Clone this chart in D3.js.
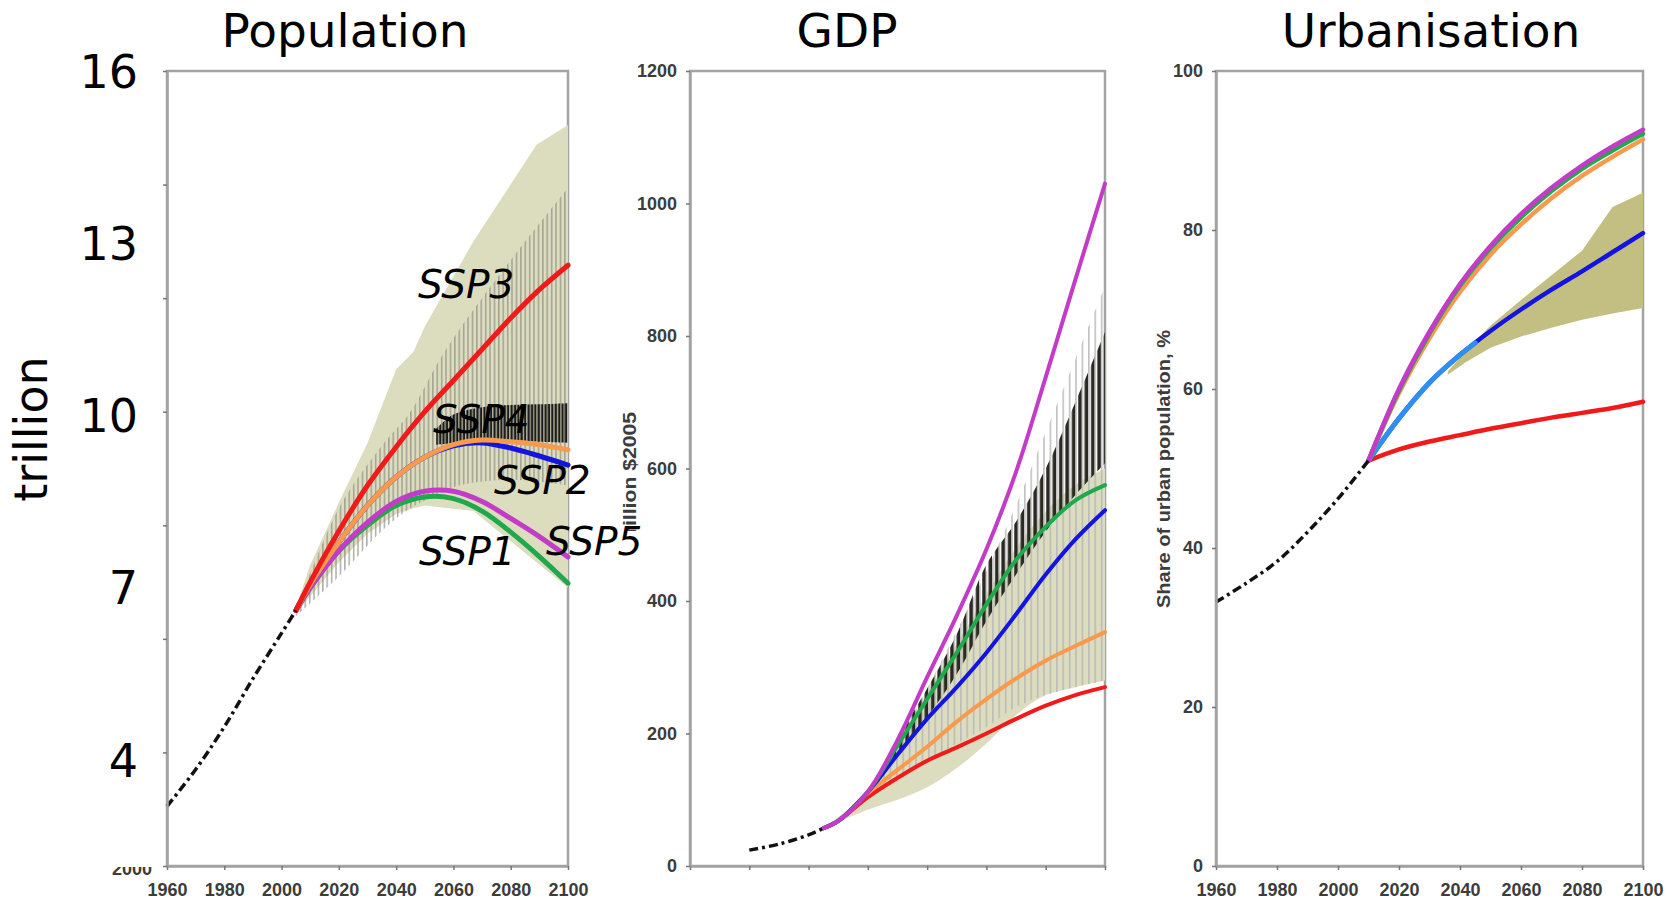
<!DOCTYPE html>
<html><head><meta charset="utf-8">
<script src="https://cdn.jsdelivr.net/npm/d3@7"></script>
<style>
body{margin:0;background:#fff;}
svg{display:block;}
</style></head><body>
<svg id="chart" width="1677" height="902"></svg>
<script>
// ---------------- DATA ----------------
const titles = ["Population", "GDP", "Urbanisation"];
const sspNames = ["SSP1", "SSP2", "SSP3", "SSP4", "SSP5"];
const xTickYears = [1960, 1980, 2000, 2020, 2040, 2060, 2080, 2100];

// Population (billions, labelled "trillion" on the picture)
const popHistYears = [1960, 1970, 1980, 1990, 2000, 2005];
const popHist = [3.05, 3.7, 4.45, 5.3, 6.1, 6.5];
const popYears = [2005, 2010, 2020, 2030, 2040, 2050, 2060, 2070, 2080, 2090, 2100];
const popSSP1 = [6.5, 6.9, 7.55, 8.0, 8.35, 8.5, 8.47, 8.25, 7.88, 7.45, 6.98];
const popSSP2 = [6.5, 6.95, 7.7, 8.35, 8.85, 9.2, 9.4, 9.45, 9.36, 9.22, 9.06];
const popSSP3 = [6.5, 7.0, 7.9, 8.7, 9.38, 10.0, 10.55, 11.1, 11.65, 12.15, 12.58];
const popSSP4 = [6.5, 6.95, 7.7, 8.35, 8.85, 9.2, 9.42, 9.5, 9.47, 9.42, 9.33];
const popSSP5 = [6.5, 6.9, 7.55, 8.05, 8.42, 8.6, 8.6, 8.42, 8.12, 7.8, 7.44];
const popFanYears = [2005, 2010, 2020, 2030, 2040, 2046, 2050, 2067, 2089, 2100];
const popFanHigh = [6.55, 7.3, 8.4, 9.45, 10.75, 11.05, 11.5, 13.0, 14.7, 15.05];
const popFanLow = [6.45, 6.75, 7.35, 7.85, 8.2, 8.3, 8.35, 8.25, 7.35, 6.9];
const popHatchYears = [2005, 2020, 2035, 2045, 2055, 2062, 2080, 2100];
const popHatchHigh = [6.5, 8.3, 9.4, 10.0, 10.9, 11.44, 12.67, 13.94];
const popHatchLow = [6.4, 7.1, 7.9, 8.3, 8.55, 8.7, 8.8, 8.7];
const popDarkYears = [2054, 2060, 2070, 2080, 2090, 2100];
const popDarkHigh = [9.7, 9.95, 10.08, 10.12, 10.13, 10.15];
const popDarkLow = [9.42, 9.45, 9.52, 9.5, 9.47, 9.45];
const popMinorTicks = [2, 4, 6, 8, 10, 12, 14, 16];
const popBigTicks = [4, 7, 10, 13, 16];
const popBigTickLabels = ["4", "7", "10", "13", "16"];
const popUnit = "trillion";
const popCutLabel = "2000";

// GDP (trillion $2005)
const gdpHistYears = [1980, 1990, 2000, 2005];
const gdpHist = [24, 33, 47, 57];
const gdpYears = [2005, 2010, 2020, 2030, 2040, 2050, 2060, 2070, 2080, 2090, 2100];
const gdpSSP1 = [57, 68, 112, 182, 252, 322, 395, 462, 512, 552, 575];
const gdpSSP2 = [57, 68, 112, 168, 222, 270, 322, 380, 440, 493, 537];
const gdpSSP3 = [57, 68, 104, 133, 159, 179, 200, 222, 242, 258, 270];
const gdpSSP4 = [57, 68, 110, 145, 180, 218, 252, 283, 310, 332, 353];
const gdpSSP5 = [57, 68, 112, 190, 285, 378, 478, 595, 738, 885, 1030];
const gdpFanYears = [2005, 2020, 2030, 2040, 2050, 2060, 2070, 2080, 2090, 2100];
const gdpFanHigh = [57, 112, 185, 260, 335, 410, 480, 535, 575, 600];
const gdpFanLow = [57, 85, 100, 119, 148, 185, 228, 258, 270, 280];
const gdpHatchYears = [2005, 2020, 2030, 2040, 2050, 2060, 2070, 2080, 2090, 2100];
const gdpHatchHigh = [57, 112, 185, 268, 355, 445, 545, 655, 765, 875];
const gdpHatchLow = [57, 100, 128, 158, 185, 210, 240, 258, 270, 280];
const gdpDarkYears = [2028, 2040, 2050, 2060, 2070, 2080, 2090, 2100];
const gdpDarkHigh = [178, 268, 350, 455, 520, 600, 700, 806];
const gdpDarkLow = [160, 225, 290, 370, 440, 505, 560, 608];
const gdpTicks = [0, 200, 400, 600, 800, 1000, 1200];
const gdpUnit = "Trillion $2005";

// Urbanisation (share of urban population, %)
const urbHistYears = [1960, 1970, 1980, 1990, 2000, 2010];
const urbHist = [33.2, 35.6, 38.3, 42.0, 46.2, 51.0];
const urbYears = [2010, 2020, 2030, 2040, 2050, 2060, 2070, 2080, 2090, 2100];
const urbSSP1 = [51, 59.8, 67.0, 73.0, 77.7, 81.6, 84.9, 87.7, 90.0, 92.1];
const urbSSP2 = [51, 56.3, 60.8, 64.3, 67.3, 70.0, 72.5, 74.8, 77.2, 79.6];
const urbSSP3 = [51, 52.4, 53.4, 54.2, 55.0, 55.7, 56.4, 57.0, 57.6, 58.4];
const urbSSP4 = [51, 59.5, 66.4, 72.2, 76.9, 80.7, 84.0, 86.8, 89.2, 91.4];
const urbSSP5 = [51, 60.0, 67.2, 73.2, 78.0, 82.0, 85.3, 88.1, 90.5, 92.6];
const urbLightYears = [2010, 2020, 2030, 2040, 2045];
const urbLight = [51, 56.3, 60.8, 64.3, 65.8];
const urbBandYears = [2036, 2042, 2050, 2060, 2070, 2080, 2090, 2100];
const urbBandHigh = [62.2, 64.8, 68.0, 71.2, 74.3, 77.4, 82.9, 84.7];
const urbBandLow = [61.8, 63.4, 65.2, 66.6, 67.7, 68.7, 69.5, 70.2];
const urbTicks = [0, 20, 40, 60, 80, 100];
const urbUnit = "Share of urban population, %";

// ---------------- STYLE / LAYOUT ----------------
const C = {ssp1: "#22a84c", ssp2: "#1414e0", ssp3: "#f01a1a", ssp4: "#f79a4e", ssp5: "#c23cc8",
           light: "#2f8ff0", fan: "#dcdcbf", band: "#c3bf83", frame: "#a3a3a3", tick: "#3c3c3c"};
const TOP = 71, BOT = 866;
const panels = [
  {x0: 167, x1: 568, dom: [2, 16]},
  {x0: 690, x1: 1105, dom: [0, 1200]},
  {x0: 1216, x1: 1643, dom: [0, 100]}
];
const titleX = [345, 847, 1431];
const smooth = d3.curveCatmullRom.alpha(0.5);

const svg = d3.select("#chart");
const defs = svg.append("defs");
function stripe(id, w, lw, color, op, off) {
  const p = defs.append("pattern").attr("id", id).attr("patternUnits", "userSpaceOnUse")
    .attr("width", w).attr("height", 20);
  p.append("rect").attr("x", off).attr("y", 0).attr("width", lw).attr("height", 20)
    .attr("fill", color).attr("fill-opacity", op);
}
stripe("popHatch", 4.4, 1.3, "#8a8a80", 0.8, 1);
stripe("popDark", 3.4, 2.3, "#141414", 0.95, 0.4);
stripe("gdpLight", 6.4, 1.6, "#b5b5b5", 0.85, 0);
stripe("gdpDark", 6.4, 3.8, "#2a2a22", 1, 3.0);

const zip = (xs, ys) => xs.map((x, i) => [x, ys[i]]);
const zip3 = (xs, lo, hi) => xs.map((x, i) => ({x, lo: lo[i], hi: hi[i]}));

const scales = panels.map(p => ({
  x: d3.scaleLinear().domain([1960, 2100]).range([p.x0, p.x1]),
  y: d3.scaleLinear().domain(p.dom).range([BOT, TOP])
}));

function drawFrame(s) {
  const [xa, xb] = s.x.range();
  svg.append("rect").attr("x", xa).attr("y", TOP).attr("width", xb - xa).attr("height", BOT - TOP)
    .attr("fill", "#fff").attr("stroke", C.frame).attr("stroke-width", 2.5);
}
function area(s, data, fill, curve) {
  svg.append("path").datum(data)
    .attr("d", d3.area().x(d => s.x(d.x)).y0(d => s.y(d.lo)).y1(d => s.y(d.hi)).curve(curve || d3.curveLinear))
    .attr("fill", fill);
}
function line(s, data, color, w, dash) {
  const p = svg.append("path").datum(data)
    .attr("d", d3.line().x(d => s.x(d[0])).y(d => s.y(d[1])).curve(smooth))
    .attr("fill", "none").attr("stroke", color).attr("stroke-width", w)
    .attr("stroke-linecap", dash ? "butt" : "round").attr("stroke-linejoin", "round");
  if (dash) p.attr("stroke-dasharray", dash);
}
function axes(s, yTicks, yLabels, xLabels) {
  const gx = svg.append("g").attr("transform", `translate(0,${BOT})`)
    .call(d3.axisBottom(s.x).tickValues(xTickYears).tickSize(4).tickSizeOuter(0)
      .tickFormat(xLabels ? d3.format("d") : () => ""));
  const gy = svg.append("g").attr("transform", `translate(${s.x.range()[0]},0)`)
    .call(d3.axisLeft(s.y).tickValues(yTicks).tickSize(4).tickSizeOuter(0)
      .tickFormat(yLabels ? d3.format("d") : () => ""));
  [gx, gy].forEach(g => {
    g.select(".domain").attr("stroke", C.frame).attr("stroke-width", 2.5);
    g.selectAll(".tick line").attr("stroke", "#777").attr("stroke-width", 1.5);
    g.selectAll(".tick text").attr("font-family", "'Liberation Sans', Arial, sans-serif")
      .attr("font-weight", "bold").attr("font-size", 18).attr("fill", C.tick);
  });
  gx.selectAll(".tick text").attr("dy", 0).attr("y", 30);
  gy.selectAll(".tick text").attr("x", -13);
}
const hist = "9,4,3,4";

// ---------- Panel 1: Population ----------
const s1 = scales[0];
{
  const s = s1;
  drawFrame(s);
  area(s, zip3(popFanYears, popFanLow, popFanHigh), C.fan);
  area(s, zip3(popHatchYears, popHatchLow, popHatchHigh), "url(#popHatch)", smooth);
  area(s, zip3(popDarkYears, popDarkLow, popDarkHigh), "url(#popDark)", smooth);
  line(s, zip(popYears, popSSP1), C.ssp1, 5);
  line(s, zip(popYears, popSSP5), C.ssp5, 5);
  line(s, zip(popYears, popSSP2), C.ssp2, 5);
  line(s, zip(popYears, popSSP4), C.ssp4, 5);
  line(s, zip(popYears, popSSP3), C.ssp3, 5);
  line(s, zip(popHistYears, popHist), "#111", 3.5, hist);
  axes(s, popMinorTicks, false, true);
  // original axis label, partly hidden
  defs.append("clipPath").attr("id", "cut").append("rect")
    .attr("x", 90).attr("y", 867).attr("width", 70).attr("height", 20);
  svg.append("g").attr("clip-path", "url(#cut)").append("text").attr("x", 152).attr("y", 875)
    .attr("text-anchor", "end").attr("font-family", "'Liberation Sans', Arial, sans-serif")
    .attr("font-weight", "bold").attr("font-size", 18).attr("fill", C.tick).text(popCutLabel);
}

// ---------- Panel 2: GDP ----------
{
  const s = scales[1];
  drawFrame(s);
  area(s, zip3(gdpFanYears, gdpFanLow, gdpFanHigh), C.fan, smooth);
  area(s, zip3(gdpHatchYears, gdpHatchLow, gdpHatchHigh), "url(#gdpLight)", smooth);
  area(s, zip3(gdpDarkYears, gdpDarkLow, gdpDarkHigh), "url(#gdpDark)", smooth);
  line(s, zip(gdpYears, gdpSSP3), C.ssp3, 4);
  line(s, zip(gdpYears, gdpSSP4), C.ssp4, 4);
  line(s, zip(gdpYears, gdpSSP2), C.ssp2, 4);
  line(s, zip(gdpYears, gdpSSP1), C.ssp1, 4);
  line(s, zip(gdpYears, gdpSSP5), C.ssp5, 4);
  line(s, zip(gdpHistYears, gdpHist), "#111", 3.5, hist);
  axes(s, gdpTicks, true, false);
  defs.append("clipPath").attr("id", "cutG").append("rect")
    .attr("x", 600).attr("y", 380).attr("width", 60).attr("height", 151);
  svg.append("g").attr("clip-path", "url(#cutG)").append("text")
    .attr("transform", "translate(636,412) rotate(-90)").attr("text-anchor", "end")
    .attr("font-family", "'Liberation Sans', Arial, sans-serif").attr("font-weight", "bold")
    .attr("font-size", 19).attr("textLength", 134).attr("lengthAdjust", "spacingAndGlyphs")
    .attr("fill", C.tick).text(gdpUnit);
}

// ---------- Panel 3: Urbanisation ----------
{
  const s = scales[2];
  drawFrame(s);
  area(s, zip3(urbBandYears, urbBandLow, urbBandHigh), C.band);
  line(s, zip(urbYears, urbSSP3), C.ssp3, 4.5);
  line(s, zip(urbYears, urbSSP2), C.ssp2, 4.5);
  line(s, zip(urbLightYears, urbLight), C.light, 5);
  line(s, zip(urbYears, urbSSP4), C.ssp4, 4.5);
  line(s, zip(urbYears, urbSSP1), C.ssp1, 4.5);
  line(s, zip(urbYears, urbSSP5), C.ssp5, 4.5);
  line(s, zip(urbHistYears, urbHist), "#111", 3.5, hist);
  axes(s, urbTicks, true, true);
  svg.append("text").attr("transform", "translate(1170,469) rotate(-90)").attr("text-anchor", "middle")
    .attr("font-family", "'Liberation Sans', Arial, sans-serif").attr("font-weight", "bold")
    .attr("font-size", 18).attr("textLength", 278).attr("lengthAdjust", "spacingAndGlyphs")
    .attr("fill", C.tick).text(urbUnit);
}

// ---------- overlay texts (on top of everything) ----------
svg.append("g").selectAll("text").data(popBigTicks).join("text")
  .attr("x", 138).attr("y", d => s1.y(d) + 17 + (16 - d) * 0.6).attr("text-anchor", "end")
  .attr("font-family", "'DejaVu Sans', Verdana, sans-serif").attr("font-size", 46).attr("fill", "#000")
  .text((d, i) => popBigTickLabels[i]);
svg.append("text").attr("transform", "translate(47,429) rotate(-90)").attr("text-anchor", "middle")
  .attr("font-family", "'DejaVu Sans', Verdana, sans-serif").attr("font-size", 46).attr("fill", "#000")
  .text(popUnit);
const sspLabelPos = [
  {n: "SSP3", yr: 2047.6, v: 12.0}, {n: "SSP4", yr: 2052.9, v: 9.62},
  {n: "SSP2", yr: 2074.2, v: 8.55}, {n: "SSP1", yr: 2048.0, v: 7.3},
  {n: "SSP5", yr: 2092.3, v: 7.48}
];
sspLabelPos.forEach(l => {
  svg.append("text").attr("x", s1.x(l.yr)).attr("y", s1.y(l.v))
    .attr("font-family", "'DejaVu Sans', Verdana, sans-serif").attr("font-style", "italic")
    .attr("font-size", 39).attr("fill", "#000").text(sspNames.includes(l.n) ? l.n : "");
});
svg.append("g").selectAll("text").data(titles).join("text")
  .attr("x", (d, i) => titleX[i]).attr("y", 47).attr("text-anchor", "middle")
  .attr("font-family", "'DejaVu Sans', Verdana, sans-serif").attr("font-size", 47).attr("fill", "#000")
  .text(d => d);
</script></body></html>
